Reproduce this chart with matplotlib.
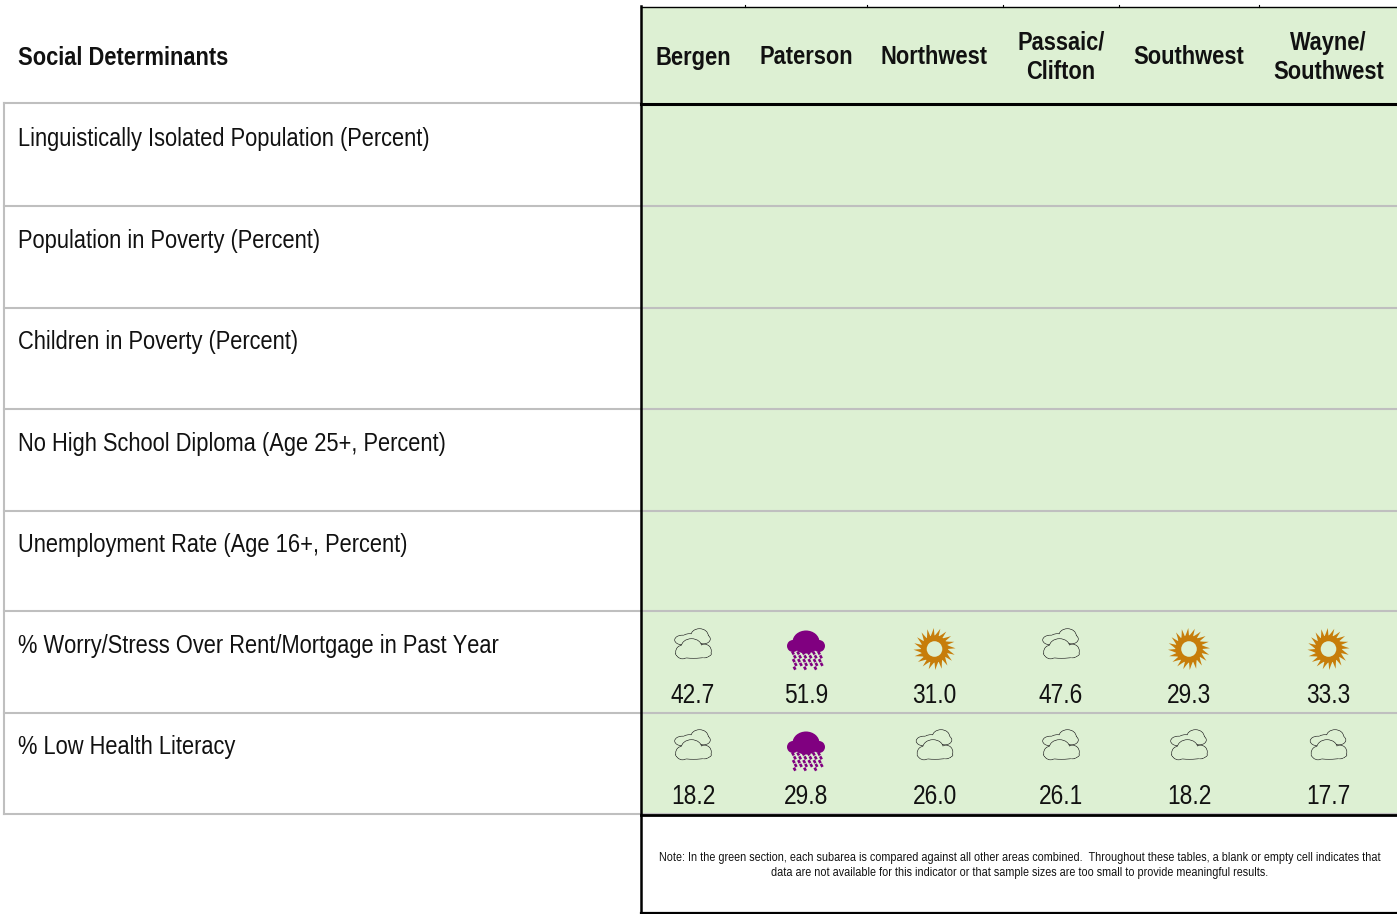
### Social determinants table with weather icons
#

import tempfile
import numpy as np
import matplotlib
matplotlib.use("Agg")
import matplotlib.pyplot as plt
from matplotlib import font_manager
from matplotlib.patches import Rectangle, Ellipse, Polygon, Circle
from fontTools.ttLib import TTFont

areas = ["Bergen", "Paterson", "Northwest", "Passaic/\nClifton", "Southwest", "Wayne/\nSouthwest"]
indicators = [
    "Linguistically Isolated Population (Percent)",
    "Population in Poverty (Percent)",
    "Children in Poverty (Percent)",
    "No High School Diploma (Age 25+, Percent)",
    "Unemployment Rate (Age 16+, Percent)",
    "% Worry/Stress Over Rent/Mortgage in Past Year",
    "% Low Health Literacy",
]
worry_values = ["42.7", "51.9", "31.0", "47.6", "29.3", "33.3"]
worry_icons = ["cloud", "rain", "sun", "cloud", "sun", "sun"]
literacy_values = ["18.2", "29.8", "26.0", "26.1", "18.2", "17.7"]
literacy_icons = ["cloud", "rain", "cloud", "cloud", "cloud", "cloud"]

note = ("Note: In the green section, each subarea is compared against all other areas combined.  "
        "Throughout these tables, a blank or empty cell indicates that\n"
        "data are not available for this indicator or that sample sizes are too small to provide meaningful results.")

column_x = [693, 806, 934.5, 1061, 1189, 1328.5]
row_lines = [206, 308, 409, 511, 611, 713, 814]
label_y = [139, 241, 342, 444, 545, 646, 747]

GREEN = "#DDF0D3"
GREY = "#BFBFBF"
PURPLE = "#800080"
ORANGE = "#C77D0A"
TEXT = "#111111"


def make_narrow(weight, squeeze=0.83):
    # the chart uses a narrow face, so squeeze Liberation Sans sideways and register it
    path = font_manager.findfont(font_manager.FontProperties(family="Liberation Sans", weight=weight))
    font = TTFont(path)
    glyf = font["glyf"]
    for name in font.getGlyphOrder():
        g = glyf[name]
        if g.isComposite():
            for comp in g.components:
                comp.x = int(comp.x * squeeze)
        elif g.numberOfContours > 0:
            coords = g.coordinates
            for i in range(len(coords)):
                coords[i] = (int(coords[i][0] * squeeze), coords[i][1])
        g.recalcBounds(glyf)
    hmtx = font["hmtx"]
    for name in hmtx.metrics:
        adv, lsb = hmtx.metrics[name]
        hmtx.metrics[name] = (int(adv * squeeze), int(lsb * squeeze))
    for table in ["kern", "GPOS", "GSUB", "hdmx", "VDMX", "LTSH", "fpgm", "prep", "cvt "]:
        if table in font:
            del font[table]
    family = "Narrow Table Sans"
    for rec in font["name"].names:
        if rec.nameID in (1, 16):
            rec.string = family
        elif rec.nameID == 4:
            rec.string = family + " " + weight
        elif rec.nameID == 6:
            rec.string = "NarrowTableSans-" + weight
    out = tempfile.NamedTemporaryFile(suffix=".ttf", delete=False)
    out.close()
    font.save(out.name)
    font_manager.fontManager.addfont(out.name)
    return family


make_narrow("regular")
make_narrow("bold")
plt.rcParams["font.family"] = ["Narrow Table Sans", "Liberation Sans", "DejaVu Sans"]

fig = plt.figure(figsize=(13.97, 9.14), dpi=100)
ax = fig.add_axes([0, 0, 1, 1])
ax.set_xlim(0, 1397)
ax.set_ylim(914, 0)
ax.axis("off")


def one_cloud(cx, cy, blobs, z):
    # outline first, then the same blobs in green on top of it
    for dx, dy, w, h in blobs:
        ax.add_patch(Ellipse((cx + dx, cy + dy), w, h, fc="#222222", ec="#222222", lw=0.9, zorder=z))
    for dx, dy, w, h in blobs:
        ax.add_patch(Ellipse((cx + dx, cy + dy), w, h, fc=GREEN, ec="none", zorder=z + 0.1))


def draw_cloud(x, y):
    back = [(-10, 3, 15, 9), (7, -1, 17, 14), (-3, 1, 14, 8), (11, 2, 13, 9)]
    front = [(-11, 3, 13, 13), (-2, -2, 20, 16), (11, 2, 13, 13), (0, 5, 35, 8)]
    one_cloud(x - 0.5, y - 7, back, 3)
    one_cloud(x + 0.5, y + 5, front, 4)


def draw_rain(x, y):
    for dx, dy, w, h in [(-13, -3, 12, 12), (0, -7, 27, 23), (13, -3, 12, 12)]:
        ax.add_patch(Ellipse((x + dx, y + dy), w, h, fc=PURPLE, ec="none", zorder=3))
    ax.add_patch(Rectangle((x - 13, y - 5), 26, 6, fc=PURPLE, ec="none", zorder=3))
    for row in range(5):
        for col in range(6):
            dx = -13 + col * 5.2 + row * 0.4 + (row % 2) * 1.5
            dy = 4 + row * 3.8
            if row == 4 and col % 2 == 1:
                continue
            ax.plot([x + dx - 0.8, x + dx + 0.8], [y + dy - 1.5, y + dy + 1.5], color=PURPLE, lw=1.9,
                    solid_capstyle="butt", zorder=3)


def draw_sun(x, y):
    n = 20
    pts = []
    for i in range(n):
        a = 2 * np.pi * i / n
        pts.append((x + 13 * np.cos(a), y + 13 * np.sin(a)))
        a2 = a + 2 * np.pi / n * 0.7
        pts.append((x + 16.5 * np.cos(a2 - 0.05), y + 16.5 * np.sin(a2 - 0.05)))
        pts.append((x + 21 * np.cos(a2 + 0.06), y + 21 * np.sin(a2 + 0.06)))
    ax.add_patch(Polygon(pts, closed=True, fc=ORANGE, ec="none", zorder=3))
    ax.add_patch(Circle((x, y), 13.5, fc=ORANGE, ec="none", zorder=3))
    ax.add_patch(Circle((x, y), 7.8, fc=GREEN, ec="none", zorder=4))


def draw_icon(kind, x, y):
    if kind == "cloud":
        draw_cloud(x, y - 5)
    elif kind == "rain":
        draw_rain(x, y)
    else:
        draw_sun(x, y)


# backgrounds and rules
ax.add_patch(Rectangle((641, 7), 756, 807, fc=GREEN, ec="none", zorder=1))
ax.plot([4, 641], [103, 103], color=GREY, lw=1.5, zorder=2)
for y in row_lines:
    ax.plot([4, 1397], [y, y], color=GREY, lw=1.5, zorder=2)
ax.plot([4, 4], [103, 814], color=GREY, lw=1.5, zorder=2)
ax.plot([641, 1397], [104, 104], color="black", lw=2.2, zorder=5)
ax.plot([641, 1397], [814.5, 814.5], color="black", lw=2.0, zorder=5)
ax.plot([641, 641], [6, 913], color="black", lw=1.8, zorder=5)
ax.plot([641, 1397], [6.5, 6.5], color="black", lw=1.0, zorder=5)
ax.plot([641, 1397], [913, 913], color="black", lw=1.6, zorder=5)
for x in [745, 867, 1003, 1119, 1259]:
    ax.plot([x, x], [5, 7], color="black", lw=0.8, zorder=5)

# header
ax.text(18.5, 58, "Social Determinants", fontsize=19, fontweight="bold", ha="left", va="center", color=TEXT)
for x, name in zip(column_x, areas):
    ax.text(x, 57.5, name, fontsize=19, fontweight="bold", ha="center", va="center", linespacing=1.3, color=TEXT)

# row labels
for y, label in zip(label_y, indicators):
    ax.text(18.5, y, label, fontsize=19, ha="left", va="center", color=TEXT)

# filled rows
for i in range(6):
    draw_icon(worry_icons[i], column_x[i], 649)
    ax.text(column_x[i], 696, worry_values[i], fontsize=19.7, ha="center", va="center", color=TEXT)
    draw_icon(literacy_icons[i], column_x[i], 750)
    ax.text(column_x[i], 797, literacy_values[i], fontsize=19.7, ha="center", va="center", color=TEXT)

ax.text(1019.5, 865.5, note, fontsize=9.4, ha="center", va="center", linespacing=1.4, color=TEXT)

fig.savefig("out.png", dpi=100)
